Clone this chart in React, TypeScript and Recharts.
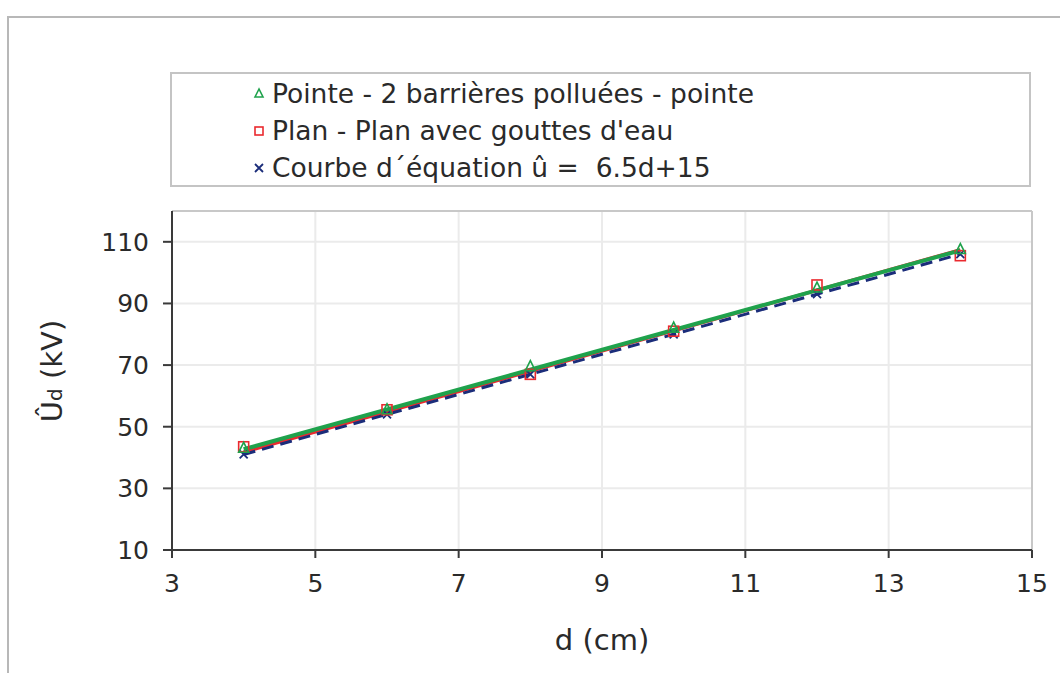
import { ScatterChart, Scatter, XAxis, YAxis, CartesianGrid, ReferenceLine } from 'recharts';

const distances = [4, 6, 8, 10, 12, 14];
const pointeValues = [43, 55.5, 69.5, 82, 95, 107.5];
const planValues = [43.5, 55.5, 67, 81, 96, 105.5];
const courbeValues = [41, 54, 67, 80, 93, 106];

// trend line end points (d = 4 and d = 14)
const trendEnds = [4, 14];
const pointeTrend = [42.7, 107.2];
const planTrend = [41.8, 107.4];

const xTicks = [3, 5, 7, 9, 11, 13, 15];
const yTicks = [10, 30, 50, 70, 90, 110];

const GREEN = '#1fa24c';
const RED = '#ea2a2f';
const BLUE = '#1b2d7a';
const TEXT = '#2a2a2a';
const FONT = '"DejaVu Sans", Verdana, sans-serif';

const toPoints = (xs: number[], ys: number[]) => xs.map((x, i) => ({ d: x, u: ys[i] }));

const pointeData = toPoints(distances, pointeValues);
const planData = toPoints(distances, planValues);
const courbeData = toPoints(distances, courbeValues);
const pointeTrendData = toPoints(trendEnds, pointeTrend);
const planTrendData = toPoints(trendEnds, planTrend);

const Triangle = ({ cx, cy, color = GREEN, r = 5 }: any) => (
  <polygon points={`${cx},${cy - r - 1} ${cx - r},${cy + r - 1} ${cx + r},${cy + r - 1}`} fill="none" stroke={color} strokeWidth={1.6} />
);
const Square = ({ cx, cy, color = RED, r = 5 }: any) => (
  <rect x={cx - r} y={cy - r} width={2 * r} height={2 * r} fill="none" stroke={color} strokeWidth={1.6} />
);
const Cross = ({ cx, cy, color = BLUE, r = 4 }: any) => (
  <path d={`M${cx - r},${cy - r}L${cx + r},${cy + r}M${cx + r},${cy - r}L${cx - r},${cy + r}`} stroke={color} strokeWidth={1.8} />
);
const NoDot = () => <g />;

const legendItems = [
  { label: 'Pointe - 2 barrières polluées - pointe', Icon: Triangle, color: GREEN },
  { label: 'Plan - Plan avec gouttes d\'eau', Icon: Square, color: RED },
  { label: 'Courbe d\u00B4\u00E9quation \u00FB =  6.5d+15', Icon: Cross, color: BLUE },
];

const LegendBox = () => (
  <div
    style={{
      position: 'absolute',
      left: 170,
      top: 72,
      width: 861,
      height: 115,
      border: '2px solid #c4c4c4',
      background: '#fff',
      fontFamily: FONT,
      fontSize: 26.5,
      color: TEXT,
      boxSizing: 'border-box',
      paddingTop: 1,
      whiteSpace: 'pre',
    }}
  >
    {legendItems.map(({ label, Icon, color }) => (
      <div key={label} style={{ display: 'flex', alignItems: 'center', height: 37, paddingLeft: 80 }}>
        <svg width={14} height={14} style={{ marginRight: 6 }}>
          <Icon cx={7} cy={7} color={color} r={4} />
        </svg>
        <span>{label}</span>
      </div>
    ))}
  </div>
);

const YLabel = () => (
  <text transform="translate(62,371) rotate(-90)" textAnchor="middle" fontFamily={FONT} fontSize={29} fill={TEXT}>
    <tspan>Û</tspan>
    <tspan fontSize={20}>d</tspan>
    <tspan> (kV)</tspan>
  </text>
);

const XLabel = () => (
  <text x={602} y={650} textAnchor="middle" fontFamily={FONT} fontSize={29} fill={TEXT}>
    d (cm)
  </text>
);

export default function App() {
  return (
    <div style={{ position: 'absolute', left: 0, top: 0, width: 1060, height: 673, background: '#fff', overflow: 'hidden' }}>
      <div
        style={{
          position: 'absolute',
          left: 7,
          top: 16,
          width: 1100,
          height: 700,
          borderLeft: '2px solid #b8b8b8',
          borderTop: '2px solid #b8b8b8',
        }}
      />
      <div style={{ position: 'absolute', left: 0, top: 0 }}>
        <ScatterChart width={1060} height={673} margin={{ top: 211, right: 28, bottom: 0, left: 0 }}>
          <CartesianGrid stroke="#ebebeb" strokeWidth={2} verticalValues={xTicks} horizontalValues={yTicks} />
          <ReferenceLine y={120} stroke="#c8c8c8" strokeWidth={2} />
          <ReferenceLine x={15} stroke="#c8c8c8" strokeWidth={2} />
          <XAxis
            type="number"
            dataKey="d"
            domain={[3, 15]}
            ticks={xTicks}
            allowDataOverflow
            axisLine={{ stroke: '#3a3a3a', strokeWidth: 2 }}
            tickLine={{ stroke: '#3a3a3a', strokeWidth: 2 }}
            tickSize={8}
            tick={{ fill: TEXT, fontSize: 25, fontFamily: FONT, dy: 14 }}
            label={<XLabel />}
            height={123}
          />
          <YAxis
            type="number"
            dataKey="u"
            domain={[10, 120]}
            ticks={yTicks}
            allowDataOverflow
            axisLine={{ stroke: '#3a3a3a', strokeWidth: 2 }}
            tickLine={{ stroke: '#3a3a3a', strokeWidth: 2 }}
            tickSize={9}
            tick={{ fill: TEXT, fontSize: 25, fontFamily: FONT, dx: -12 }}
            label={<YLabel />}
            width={172}
          />
          <Scatter name="plan-trend" data={planTrendData} line={{ stroke: RED, strokeWidth: 3.5 }} shape={<NoDot />} legendType="none" isAnimationActive={false} />
          <Scatter name="pointe-trend" data={pointeTrendData} line={{ stroke: GREEN, strokeWidth: 4 }} shape={<NoDot />} legendType="none" isAnimationActive={false} />
          <Scatter name="courbe" data={courbeData} line={{ stroke: BLUE, strokeWidth: 3, strokeDasharray: '12 7' }} shape={<Cross />} isAnimationActive={false} />
          <Scatter name="plan" data={planData} shape={<Square />} isAnimationActive={false} />
          <Scatter name="pointe" data={pointeData} shape={<Triangle />} isAnimationActive={false} />
        </ScatterChart>
      </div>
      <LegendBox />
    </div>
  );
}
